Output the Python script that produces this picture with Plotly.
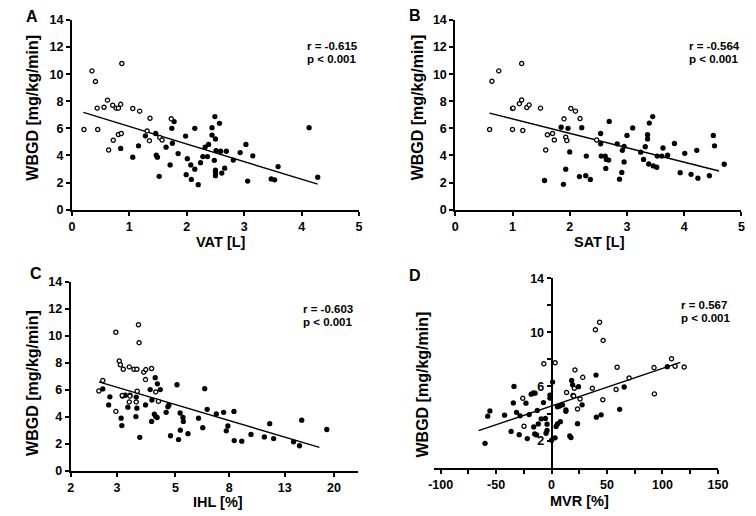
import plotly.graph_objects as go

W, H = 756, 516

# ---------------- Panel A : VAT ----------------
vat_open_x = [0.21, 0.35, 0.41, 0.44, 0.45, 0.56, 0.62, 0.64, 0.71, 0.72, 0.77, 0.81, 0.81, 0.85, 0.86, 0.87,
              1.06, 1.18, 1.36, 1.31, 1.35, 1.53, 1.57, 1.73]
vat_open_y = [5.91, 10.24, 9.45, 7.49, 5.91, 7.56, 8.08, 4.40, 7.70, 5.12, 7.49, 7.49, 5.55, 7.77, 5.62, 10.79,
              7.46, 7.27, 6.74, 5.81, 5.09, 5.33, 5.14, 6.70]
vat_fill_x = [0.85, 1.06, 1.16, 1.28, 1.46, 1.47, 1.49, 1.52, 1.64, 1.71, 1.74, 1.75, 1.78, 1.85, 1.98, 1.99,
              2.01, 2.07, 2.08, 2.14, 2.14, 2.20, 2.24, 2.28, 2.32, 2.36, 2.38, 2.44, 2.44, 2.48, 2.49, 2.50,
              2.51, 2.50, 2.50, 2.50, 2.57, 2.59, 2.61, 2.66, 2.69, 2.81, 2.93, 3.03, 3.06, 3.15, 3.47, 3.53,
              3.59, 4.13, 4.28]
vat_fill_y = [4.52, 3.87, 4.71, 5.45, 5.62, 4.02, 3.87, 2.46, 4.61, 3.30, 6.00, 4.90, 6.50, 4.14, 5.43, 2.58,
              3.76, 3.30, 2.23, 6.00, 2.99, 1.84, 3.47, 3.92, 4.62, 3.92, 4.81, 6.05, 5.50, 3.64, 6.87, 5.22,
              4.36, 2.92, 2.51, 2.72, 6.37, 4.31, 2.70, 3.06, 4.31, 3.66, 4.21, 4.81, 2.11, 3.97, 2.27, 2.20,
              3.18, 6.05, 2.39]
vat_fit_x = [0.20, 4.28]
vat_fit_y = [7.18, 1.88]

# ---------------- Panel B : SAT ----------------
sat_open_x = [0.60, 0.64, 0.76, 1.00, 1.01, 1.00, 1.12, 1.16, 1.16, 1.18, 1.25, 1.29, 1.49, 1.61, 1.58, 1.70,
              1.73, 1.90, 1.93, 1.95, 2.02, 2.10, 2.18, 2.47]
sat_open_y = [5.91, 9.48, 10.24, 7.47, 7.49, 5.91, 7.82, 8.09, 10.79, 5.84, 7.54, 7.73, 7.49, 5.53, 4.40, 5.62,
              5.14, 6.70, 5.34, 5.10, 7.47, 7.27, 6.72, 5.14]
sat_fill_x = [1.56, 1.85, 1.89, 1.93, 1.97, 2.00, 2.17, 2.21, 2.29, 2.28, 2.36, 2.54, 2.54, 2.55, 2.62, 2.63,
              2.64, 2.68, 2.69, 2.83, 2.87, 2.91, 2.92, 2.95, 2.95, 3.00, 3.10, 3.24, 3.29, 3.32, 3.36, 3.36,
              3.39, 3.38, 3.45, 3.46, 3.52, 3.53, 3.61, 3.63, 3.71, 3.83, 3.93, 4.01, 4.12, 4.22, 4.24, 4.44,
              4.51, 4.53, 4.70]
sat_fill_y = [2.15, 6.08, 1.87, 2.99, 6.00, 4.26, 2.44, 6.05, 3.95, 2.51, 2.23, 5.62, 4.86, 3.95, 3.95, 3.04,
              3.71, 3.66, 6.51, 4.86, 2.25, 2.75, 4.38, 4.67, 3.52, 5.48, 6.03, 4.24, 3.71, 4.64, 5.53, 5.22,
              6.39, 3.37, 6.87, 3.23, 3.13, 3.95, 3.95, 4.55, 4.02, 4.88, 2.73, 4.16, 2.61, 4.38, 2.32, 2.51,
              5.48, 4.71, 3.35]
sat_fit_x = [0.60, 4.61]
sat_fit_y = [7.12, 2.85]

# ---------------- Panel C : IHL (log axis) ----------------
ihl_open_x = [2.56, 2.65, 2.97, 2.97, 3.06, 3.09, 3.17, 3.14, 3.34, 3.34, 3.36, 3.48, 3.57, 3.55, 3.58, 3.62,
              3.64, 3.79, 3.86, 3.85, 4.06, 4.21, 4.31]
ihl_open_y = [5.92, 6.69, 4.41, 10.26, 8.13, 7.86, 7.53, 5.59, 7.70, 5.11, 5.54, 7.53, 7.53, 5.11, 5.90, 10.81,
              9.49, 7.31, 7.50, 6.76, 7.58, 5.85, 5.15]
ihl_fill_x = [2.65, 2.82, 2.79, 3.11, 3.13, 3.15, 3.22, 3.30, 3.36, 3.55, 3.57, 3.54, 3.66, 3.85, 4.01, 4.06,
              4.07, 4.16, 4.19, 4.21, 4.27, 4.26, 4.38, 4.61, 4.68, 4.72, 4.79, 5.07, 5.14, 5.21, 5.22, 5.34,
              5.36, 5.58, 6.12, 6.35, 6.46, 6.60, 7.15, 7.62, 8.34, 7.91, 7.80, 8.36, 8.93, 9.68, 10.88, 11.40,
              11.80, 14.04, 14.79, 15.08, 18.78]
ihl_fill_y = [6.07, 5.49, 4.89, 3.91, 3.36, 5.54, 5.61, 4.72, 5.61, 5.47, 4.65, 4.03, 2.49, 4.89, 6.02, 3.67,
              5.25, 4.20, 6.90, 4.03, 6.45, 3.96, 6.02, 4.34, 4.75, 4.87, 2.61, 6.38, 2.33, 4.29, 3.02, 3.96,
              3.67, 2.76, 3.91, 3.21, 6.09, 4.56, 4.22, 4.34, 4.41, 3.33, 2.97, 2.25, 2.21, 2.71, 2.52, 3.50,
              2.40, 2.16, 1.87, 3.76, 3.07]
ihl_fit_x = [2.56, 17.6]
ihl_fit_y = [6.59, 1.75]
ihl_ticks = [2, 3, 5, 8, 13, 20]

# ---------------- Panel D : MVR ----------------
mvr_open_x = [-7.0, 3.2, -26.0, -24.9, 43.3, 39.5, 46.5, 21.1, 28.1, 59.1, 92.4, 108.2, 111.4, 119.6, 69.9,
              36.8, 13.5, 19.9, 20.5, 25.7, 46.2, 58.2, 92.7, 23.4]
mvr_open_y = [7.68, 7.75, 5.12, 3.06, 10.74, 10.19, 9.40, 7.22, 6.67, 7.42, 7.39, 8.04, 7.49, 7.44, 6.63,
              5.86, 5.55, 5.29, 5.86, 5.07, 5.02, 5.77, 5.45, 4.33]
mvr_fill_x = [-60, -57.6, -55.6, -42.4, -33.9, -34.5, -31.6, -36.5, -29.2, -28.4, -23.1, -21.9, -18.4, -16.4,
              -14.9, -20.2, -16.1, -15.2, -13.5, -12.0, -12.9, -9.4, -5.6, -7.3, -4.1, -4.1, -5.0, -1.5, -1.5,
              0.9, 0, 3.2, 4.1, 5.3, 5.3, 7.3, 7.9, 9.9, 12.9, 12.9, 16.4, 17.5, 18.1, 19.0, 19.3, 23.4, 24.3,
              27.5, 40.1, 40.4, 44.7, 61.4, 65.5, 104.4]
mvr_fill_y = [1.80, 3.80, 4.19, 3.88, 6.00, 4.78, 4.09, 2.68, 2.44, 3.83, 4.76, 2.15, 5.43, 5.53, 5.50, 3.92,
              3.01, 2.49, 2.42, 3.23, 4.23, 3.61, 3.64, 4.81, 3.21, 2.75, 2.54, 5.36, 5.14, 6.32, 2.03, 2.20,
              3.04, 3.23, 4.50, 4.55, 3.40, 4.64, 4.26, 4.16, 2.34, 2.22, 6.44, 6.12, 5.33, 3.25, 5.98, 4.64,
              6.84, 3.73, 3.90, 4.31, 5.96, 7.46]
mvr_fit_x = [-65.8, 116.1]
mvr_fit_y = [2.73, 7.78]
mvr_xticks = [-100, -50, 0, 50, 100, 150]
mvr_xminor = [-75, -25, 25, 75, 125]
mvr_yticks = [2, 6, 10, 14]
mvr_yminor = [4, 8, 12]

panel_stats = [("A", "r = -0.615", "p < 0.001"), ("B", "r = -0.564", "p < 0.001"),
               ("C", "r = -0.603", "p < 0.001"), ("D", "r = 0.567", "p < 0.001")]
x_titles = ["VAT [L]", "SAT [L]", "IHL [%]", "MVR [%]"]
y_title = "WBGD [mg/kg/min]"

FONT = "Arial, Liberation Sans, Helvetica, sans-serif"


def px(x):
    return x / W


def py(y):
    return 1 - y / H


fig = go.Figure()

panels = [
    (vat_open_x, vat_open_y, vat_fill_x, vat_fill_y, vat_fit_x, vat_fit_y),
    (sat_open_x, sat_open_y, sat_fill_x, sat_fill_y, sat_fit_x, sat_fit_y),
    (ihl_open_x, ihl_open_y, ihl_fill_x, ihl_fill_y, ihl_fit_x, ihl_fit_y),
    (mvr_open_x, mvr_open_y, mvr_fill_x, mvr_fill_y, mvr_fit_x, mvr_fit_y),
]

for i, (ox, oy, fx, fy, lx, ly) in enumerate(panels):
    xa = "x" if i == 0 else f"x{i+1}"
    ya = "y" if i == 0 else f"y{i+1}"
    fig.add_trace(go.Scatter(x=lx, y=ly, mode="lines", line=dict(color="black", width=1.4),
                             xaxis=xa, yaxis=ya, showlegend=False, hoverinfo="skip"))
    fig.add_trace(go.Scatter(x=fx, y=fy, mode="markers",
                             marker=dict(size=5.3, color="black", line=dict(width=0)),
                             xaxis=xa, yaxis=ya, showlegend=False))
    fig.add_trace(go.Scatter(x=ox, y=oy, mode="markers",
                             marker=dict(size=4.2, color="white", line=dict(color="black", width=1.3)),
                             xaxis=xa, yaxis=ya, showlegend=False))

tickfont = dict(family=FONT, size=12.5, color="black", weight="bold")
common = dict(showline=True, linecolor="black", linewidth=2, ticks="outside", ticklen=4,
              tickwidth=1.6, tickcolor="black", showgrid=False, zeroline=False,
              tickfont=tickfont, fixedrange=True)

# domains (pixels -> paper)
dom = {
    "A": ([67.3, 360.7], [208.3, 13.3]),
    "B": ([459.0, 751.3], [208.3, 13.3]),
    "C": ([66.0, 359.3], [477.0, 282.3]),
    "D": ([437.3, 727.3], [473.5, 278.7]),
}


def xd(k):
    a, b = dom[k][0]
    return [px(a), px(b)]


def yd(k):
    a, b = dom[k][1]
    return [py(a), py(b)]


fig.update_layout(
    xaxis=dict(domain=xd("A"), anchor="y", range=[0, 5], tickvals=[0, 1, 2, 3, 4, 5], **common),
    yaxis=dict(domain=yd("A"), anchor="x", range=[0, 14], tickvals=list(range(0, 15, 2)), **common),
    xaxis2=dict(domain=xd("B"), anchor="y2", range=[0, 5], tickvals=[0, 1, 2, 3, 4, 5], **common),
    yaxis2=dict(domain=yd("B"), anchor="x2", range=[0, 14], tickvals=list(range(0, 15, 2)), **common),
    xaxis3=dict(domain=xd("C"), anchor="y3", type="log", range=[0.30103, 1.391],
                tickvals=ihl_ticks, ticktext=[str(t) for t in ihl_ticks], **common),
    yaxis3=dict(domain=yd("C"), anchor="x3", range=[0, 14], tickvals=list(range(0, 15, 2)), **common),
    xaxis4=dict(domain=xd("D"), anchor="y4", range=[-106, 150], tickvals=mvr_xticks,
                ticktext=[str(t) for t in mvr_xticks],
                minor=dict(tickvals=mvr_xminor, ticks="outside", ticklen=4, tickwidth=1.6, tickcolor="black"),
                **common),
    yaxis4=dict(domain=yd("D"), anchor="free", position=px(437.3 + 106 * (290.0 / 256.0)),
                range=[0, 14], tickvals=mvr_yticks, ticktext=[str(t) for t in mvr_yticks],
                minor=dict(tickvals=mvr_yminor, ticks="outside", ticklen=4, tickwidth=1.6, tickcolor="black"),
                **common),
)

ann = []
letter_pos = {"A": (27, 10), "B": (418, 9), "C": (31, 274), "D": (418, 276)}
stat_pos = {"A": (305, 40), "B": (696, 40), "C": (301.5, 310), "D": (688, 306)}
xtitle_pos = [(220, 242), (606, 242), (217, 509), (586, 508)]
ytitle_pos = [(27, 103), (420, 103), (27, 386), (425, 388)]

for i, (letter, rtxt, ptxt) in enumerate(panel_stats):
    lx, ly = letter_pos[letter]
    ann.append(dict(text=letter, x=px(lx), y=py(ly), xref="paper", yref="paper", showarrow=False,
                    xanchor="center", yanchor="middle",
                    font=dict(family=FONT, size=16, color="black", weight="bold")))
    sx, sy = stat_pos[letter]
    ann.append(dict(text=rtxt, x=px(sx), y=py(sy), xref="paper", yref="paper", showarrow=False,
                    xanchor="left", yanchor="middle",
                    font=dict(family=FONT, size=11.5, color="black", weight="bold")))
    ann.append(dict(text=ptxt, x=px(sx), y=py(sy + 13.5), xref="paper", yref="paper", showarrow=False,
                    xanchor="left", yanchor="middle",
                    font=dict(family=FONT, size=11.5, color="black", weight="bold")))
    tx, ty = xtitle_pos[i]
    ann.append(dict(text=x_titles[i], x=px(tx), y=py(ty), xref="paper", yref="paper", showarrow=False,
                    xanchor="center", yanchor="middle",
                    font=dict(family=FONT, size=14.5, color="black", weight="bold")))
    vx, vy = ytitle_pos[i]
    ann.append(dict(text=y_title, x=px(vx), y=py(vy), xref="paper", yref="paper", showarrow=False,
                    xanchor="center", yanchor="middle", textangle=-90,
                    font=dict(family=FONT, size=16, color="black", weight="bold")))

fig.update_layout(
    width=W, height=H, autosize=False,
    margin=dict(l=0, r=0, t=0, b=0),
    paper_bgcolor="white", plot_bgcolor="white",
    annotations=ann,
    font=dict(family=FONT, color="black"),
)

fig.write_html("out.html", config={"displayModeBar": False},
               post_script="document.documentElement.style.margin='0';"
                           "document.body.style.margin='0';document.body.style.padding='0';"
                           "document.body.style.overflow='hidden';")
